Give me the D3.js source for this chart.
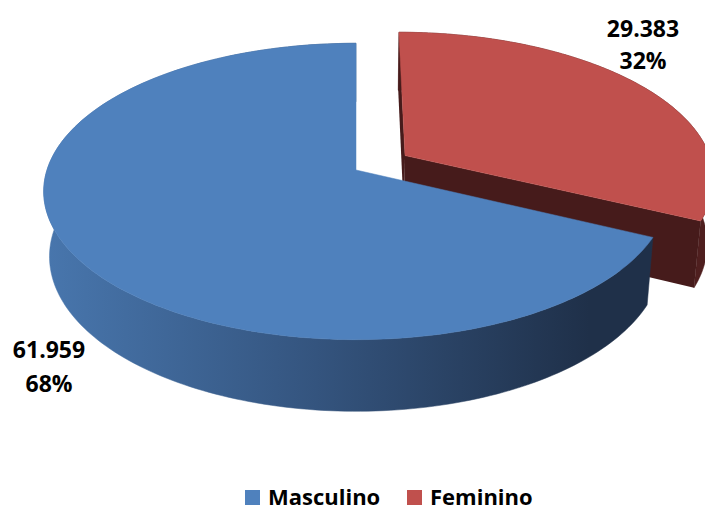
<!DOCTYPE html>
<html>
<head>
<meta charset="utf-8">
<script src="https://cdn.jsdelivr.net/npm/d3@7"></script>
<style>
  html, body { margin: 0; padding: 0; background: #fff; }
  svg { display: block; }
  text { font-family: "Open Sans", "Liberation Sans", sans-serif; font-weight: bold; fill: #000; }
</style>
</head>
<body>
<svg id="chart" width="705" height="512"></svg>
<script>
// ---- data ----
const categories = ["Masculino", "Feminino"];
const values = [61959, 29383];
const valueLabels = ["61.959", "29.383"];
const percentLabels = ["68%", "32%"];
const topColors = ["#4F81BD", "#C0504D"];

// ---- layout / view parameters ----
const W = 705, H = 512;
const view = { cx: 356, cy: 170, S: 1885, D: 6.1, sinP: 0.4695, cosP: 0.883, depth: 0.241 };
const explode = [0, 0.19];
const labelPos = [[49, 358, 392], [643, 37, 68.5]];
const legendPos = [[245, 268], [407, 430]];

const svg = d3.select("#chart");
svg.append("rect").attr("width", W).attr("height", H).attr("fill", "#fff");

const defs = svg.append("defs");
const grad = defs.append("linearGradient").attr("id", "blueSide")
  .attr("gradientUnits", "userSpaceOnUse")
  .attr("x1", 45).attr("y1", 0).attr("x2", 650).attr("y2", 0);
grad.append("stop").attr("offset", 0).attr("stop-color", "#4876AD");
grad.append("stop").attr("offset", 0.45).attr("stop-color", "#34547E");
grad.append("stop").attr("offset", 0.9).attr("stop-color", "#1F3049");
grad.append("stop").attr("offset", 1).attr("stop-color", "#1F3049");

const sideFill = ["url(#blueSide)", "#4F1F1F"];
const cutFill = ["#2A4266", "#461B1B"];

// radial scale in world units
const rScale = d3.scaleLinear().domain([0, 1]).range([0, 1]);

function proj(x, y, z) {
  const { cx, cy, S, D, sinP, cosP } = view;
  const v = -y * cosP + z * sinP;
  const w = D - (z * cosP + y * sinP);
  return [cx + S * x / w, cy + S * v / w];
}
// angle: 0 at 12 o'clock, clockwise (d3 convention)
function world(a, r, y, off) {
  return [off[0] + rScale(r) * Math.sin(a), y, off[1] - rScale(r) * Math.cos(a)];
}
function P(a, r, y, off) { const p = world(a, r, y, off); return proj(p[0], p[1], p[2]); }

const total = d3.sum(values);
const start = 2 * Math.PI * values[1] / total;
const pie = d3.pie().sort(null).value(d => d).startAngle(start).endAngle(start + 2 * Math.PI);
const arcs = pie(values);

function arcPoints(a0, a1, r, y, off, n) {
  const pts = [];
  for (let i = 0; i <= n; i++) pts.push(P(a0 + (a1 - a0) * i / n, r, y, off));
  return pts;
}
const line = d3.line();

function drawSlice(d, i) {
  const mid = (d.startAngle + d.endAngle) / 2;
  const e = explode[i];
  const off = [e * Math.sin(mid), -e * Math.cos(mid)];
  const h = -view.depth;
  const g = svg.append("g");
  const n = 200;
  const topE = arcPoints(d.startAngle, d.endAngle, 1, 0, off, n);
  const botE = arcPoints(d.startAngle, d.endAngle, 1, h, off, n).reverse();
  // outer side
  g.append("path").attr("d", line(topE.concat(botE)) + "Z")
    .attr("fill", sideFill[i]).attr("stroke", sideFill[i]).attr("stroke-width", 0.5);
  // cut faces of the exploded slice
  if (e > 0) {
    [d.startAngle, d.endAngle].forEach(a => {
      const face = [P(a, 0, 0, off), P(a, 1, 0, off), P(a, 1, h, off), P(a, 0, h, off)];
      g.append("path").attr("d", line(face) + "Z").attr("fill", cutFill[i]);
    });
  }
  // top face
  const topFace = [P(0, 0, 0, off)].concat(topE);
  g.append("path").attr("d", line(topFace) + "Z").attr("fill", topColors[i])
    .attr("stroke", topColors[i]).attr("stroke-width", 0.5).attr("stroke-linejoin", "round");
}

// draw exploded (back) slice first, then the main slice
drawSlice(arcs[1], 1);
drawSlice(arcs[0], 0);

// data labels
categories.forEach((c, i) => {
  const t = svg.append("text").attr("text-anchor", "middle").style("font-size", "23px");
  t.append("tspan").attr("x", labelPos[i][0]).attr("y", labelPos[i][1]).text(valueLabels[i]);
  t.append("tspan").attr("x", labelPos[i][0]).attr("y", labelPos[i][2]).text(percentLabels[i]);
});

// legend
categories.forEach((c, i) => {
  svg.append("rect").attr("x", legendPos[i][0]).attr("y", 490).attr("width", 15).attr("height", 15)
    .attr("fill", topColors[i]);
  svg.append("text").attr("x", legendPos[i][1]).attr("y", 505).style("font-size", "22px").text(c);
});
</script>
</body>
</html>
